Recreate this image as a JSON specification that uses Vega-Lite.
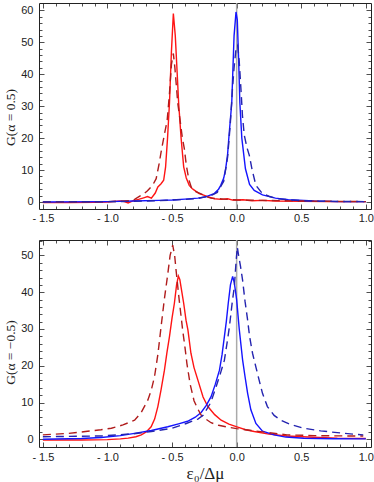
{
  "$schema": "https://vega.github.io/schema/vega-lite/v6.json",
  "background": "white",
  "padding": {"left": 3, "top": 1, "right": 0, "bottom": 0},
  "spacing": 14,
  "config": {
    "view": {"stroke": "#222", "strokeWidth": 1},
    "axis": {"domain": false, "grid": false, "labelFont": "Liberation Sans", "labelFontSize": 11, "labelColor": "#222", "tickColor": "#222", "tickWidth": 0.8, "titleFont": "Liberation Serif", "titleFontSize": 13.5, "titleFontWeight": "normal", "titleColor": "#222"},
    "line": {"strokeWidth": 1.4}
  },
  "datasets": {
    "top": [
      {"s":"rs","x":-1.5,"g":-0.2},{"s":"rs","x":-1.3,"g":-0.2},{"s":"rs","x":-1.1,"g":-0.1},{"s":"rs","x":-1.0,"g":0},{"s":"rs","x":-0.95,"g":0.2},{"s":"rs","x":-0.9,"g":0.3},{"s":"rs","x":-0.87,"g":0.1},{"s":"rs","x":-0.84,"g":-0.3},{"s":"rs","x":-0.8,"g":0.4},{"s":"rs","x":-0.76,"g":0.8},{"s":"rs","x":-0.72,"g":1.3},{"s":"rs","x":-0.69,"g":1.7},{"s":"rs","x":-0.66,"g":1.2},{"s":"rs","x":-0.63,"g":2.8},{"s":"rs","x":-0.61,"g":4.7},{"s":"rs","x":-0.585,"g":5.7},{"s":"rs","x":-0.565,"g":6.8},{"s":"rs","x":-0.55,"g":11},{"s":"rs","x":-0.535,"g":20},{"s":"rs","x":-0.52,"g":31},{"s":"rs","x":-0.505,"g":47},{"s":"rs","x":-0.49,"g":59},{"s":"rs","x":-0.475,"g":52},{"s":"rs","x":-0.46,"g":40},{"s":"rs","x":-0.449,"g":31},{"s":"rs","x":-0.43,"g":20},{"s":"rs","x":-0.41,"g":11},{"s":"rs","x":-0.39,"g":7.5},{"s":"rs","x":-0.367,"g":5.2},{"s":"rs","x":-0.345,"g":4.2},{"s":"rs","x":-0.328,"g":3.7},{"s":"rs","x":-0.29,"g":2.6},{"s":"rs","x":-0.26,"g":2.2},{"s":"rs","x":-0.22,"g":1.6},{"s":"rs","x":-0.17,"g":1.0},{"s":"rs","x":-0.12,"g":0.8},{"s":"rs","x":-0.07,"g":1.0},{"s":"rs","x":-0.03,"g":0.6},{"s":"rs","x":0.05,"g":0.7},{"s":"rs","x":0.12,"g":0.4},{"s":"rs","x":0.2,"g":0.5},{"s":"rs","x":0.3,"g":0.3},{"s":"rs","x":0.5,"g":0.2},{"s":"rs","x":0.7,"g":0.1},{"s":"rs","x":1.0,"g":0.1},
      {"s":"rd","x":-1.5,"g":0},{"s":"rd","x":-1.2,"g":0},{"s":"rd","x":-1.0,"g":0.1},{"s":"rd","x":-0.9,"g":0.2},{"s":"rd","x":-0.83,"g":0.4},{"s":"rd","x":-0.79,"g":0.8},{"s":"rd","x":-0.75,"g":1.8},{"s":"rd","x":-0.72,"g":2.5},{"s":"rd","x":-0.69,"g":3.5},{"s":"rd","x":-0.65,"g":5.3},{"s":"rd","x":-0.623,"g":7.3},{"s":"rd","x":-0.6,"g":12},{"s":"rd","x":-0.585,"g":15.6},{"s":"rd","x":-0.56,"g":21},{"s":"rd","x":-0.538,"g":25.5},{"s":"rd","x":-0.52,"g":34},{"s":"rd","x":-0.505,"g":43},{"s":"rd","x":-0.49,"g":46.5},{"s":"rd","x":-0.478,"g":42},{"s":"rd","x":-0.469,"g":37.5},{"s":"rd","x":-0.456,"g":31},{"s":"rd","x":-0.436,"g":25},{"s":"rd","x":-0.42,"g":20},{"s":"rd","x":-0.405,"g":16.7},{"s":"rd","x":-0.39,"g":11.6},{"s":"rd","x":-0.37,"g":7},{"s":"rd","x":-0.35,"g":4.5},{"s":"rd","x":-0.32,"g":3.3},{"s":"rd","x":-0.28,"g":2.6},{"s":"rd","x":-0.24,"g":1.8},{"s":"rd","x":-0.2,"g":1.2},{"s":"rd","x":-0.1,"g":0.9},{"s":"rd","x":0,"g":0.6},{"s":"rd","x":0.2,"g":0.5},{"s":"rd","x":0.5,"g":0.3},{"s":"rd","x":0.75,"g":0.2},{"s":"rd","x":1.0,"g":0.1},
      {"s":"bs","x":-1.5,"g":0},{"s":"bs","x":-1.0,"g":0.1},{"s":"bs","x":-0.8,"g":0.3},{"s":"bs","x":-0.6,"g":0.5},{"s":"bs","x":-0.5,"g":0.6},{"s":"bs","x":-0.4,"g":0.9},{"s":"bs","x":-0.3,"g":1.2},{"s":"bs","x":-0.24,"g":1.6},{"s":"bs","x":-0.175,"g":2.6},{"s":"bs","x":-0.14,"g":4},{"s":"bs","x":-0.123,"g":5.2},{"s":"bs","x":-0.1,"g":7.5},{"s":"bs","x":-0.085,"g":10.4},{"s":"bs","x":-0.07,"g":15},{"s":"bs","x":-0.059,"g":20.8},{"s":"bs","x":-0.038,"g":31},{"s":"bs","x":-0.02,"g":52},{"s":"bs","x":-0.005,"g":59.5},{"s":"bs","x":0.005,"g":57},{"s":"bs","x":0.015,"g":45},{"s":"bs","x":0.025,"g":31},{"s":"bs","x":0.04,"g":20},{"s":"bs","x":0.068,"g":10.4},{"s":"bs","x":0.1,"g":5.5},{"s":"bs","x":0.136,"g":3.6},{"s":"bs","x":0.2,"g":2.2},{"s":"bs","x":0.3,"g":1.2},{"s":"bs","x":0.4,"g":0.7},{"s":"bs","x":0.6,"g":0.3},{"s":"bs","x":0.8,"g":0.1},{"s":"bs","x":1.0,"g":0.1},
      {"s":"bd","x":-1.5,"g":0},{"s":"bd","x":-1.0,"g":0.1},{"s":"bd","x":-0.8,"g":0.2},{"s":"bd","x":-0.6,"g":0.4},{"s":"bd","x":-0.4,"g":0.8},{"s":"bd","x":-0.3,"g":1.1},{"s":"bd","x":-0.2,"g":2.0},{"s":"bd","x":-0.15,"g":3.0},{"s":"bd","x":-0.1,"g":6.5},{"s":"bd","x":-0.07,"g":14},{"s":"bd","x":-0.05,"g":24},{"s":"bd","x":-0.033,"g":35},{"s":"bd","x":-0.02,"g":42},{"s":"bd","x":-0.005,"g":48},{"s":"bd","x":0.008,"g":49},{"s":"bd","x":0.02,"g":44},{"s":"bd","x":0.033,"g":35.5},{"s":"bd","x":0.045,"g":27},{"s":"bd","x":0.059,"g":20.9},{"s":"bd","x":0.08,"g":17},{"s":"bd","x":0.098,"g":14.6},{"s":"bd","x":0.12,"g":10},{"s":"bd","x":0.149,"g":5.2},{"s":"bd","x":0.2,"g":2.6},{"s":"bd","x":0.25,"g":1.8},{"s":"bd","x":0.315,"g":1.0},{"s":"bd","x":0.4,"g":0.7},{"s":"bd","x":0.5,"g":0.4},{"s":"bd","x":0.7,"g":0.2},{"s":"bd","x":1.0,"g":0.1}
    ],
    "bottom": [
      {"s":"rs","x":-1.5,"g":-0.2},{"s":"rs","x":-1.2,"g":-0.2},{"s":"rs","x":-1.0,"g":-0.1},{"s":"rs","x":-0.9,"g":0.1},{"s":"rs","x":-0.84,"g":0.3},{"s":"rs","x":-0.78,"g":0.7},{"s":"rs","x":-0.738,"g":1.2},{"s":"rs","x":-0.7,"g":2.0},{"s":"rs","x":-0.662,"g":3.4},{"s":"rs","x":-0.635,"g":5.5},{"s":"rs","x":-0.61,"g":8.9},{"s":"rs","x":-0.585,"g":13.5},{"s":"rs","x":-0.559,"g":18.8},{"s":"rs","x":-0.54,"g":23.5},{"s":"rs","x":-0.52,"g":27.9},{"s":"rs","x":-0.5,"g":33},{"s":"rs","x":-0.482,"g":37},{"s":"rs","x":-0.465,"g":42},{"s":"rs","x":-0.451,"g":44.4},{"s":"rs","x":-0.44,"g":43.5},{"s":"rs","x":-0.431,"g":41.5},{"s":"rs","x":-0.41,"g":37},{"s":"rs","x":-0.392,"g":32.4},{"s":"rs","x":-0.377,"g":29.7},{"s":"rs","x":-0.354,"g":23.4},{"s":"rs","x":-0.33,"g":19.5},{"s":"rs","x":-0.3,"g":16.1},{"s":"rs","x":-0.26,"g":11.5},{"s":"rs","x":-0.223,"g":8.9},{"s":"rs","x":-0.17,"g":6.7},{"s":"rs","x":-0.12,"g":5.2},{"s":"rs","x":-0.06,"g":4.1},{"s":"rs","x":0.008,"g":3.3},{"s":"rs","x":0.07,"g":2.6},{"s":"rs","x":0.136,"g":2.1},{"s":"rs","x":0.25,"g":1.4},{"s":"rs","x":0.39,"g":0.9},{"s":"rs","x":0.55,"g":0.6},{"s":"rs","x":0.78,"g":0.3},{"s":"rs","x":1.0,"g":0.2},
      {"s":"rd","x":-1.5,"g":1.2},{"s":"rd","x":-1.3,"g":1.6},{"s":"rd","x":-1.17,"g":2.1},{"s":"rd","x":-1.05,"g":2.6},{"s":"rd","x":-0.97,"g":3.0},{"s":"rd","x":-0.88,"g":3.9},{"s":"rd","x":-0.79,"g":5.2},{"s":"rd","x":-0.74,"g":7.2},{"s":"rd","x":-0.687,"g":10.7},{"s":"rd","x":-0.66,"g":13.5},{"s":"rd","x":-0.636,"g":17},{"s":"rd","x":-0.61,"g":23},{"s":"rd","x":-0.585,"g":30.6},{"s":"rd","x":-0.56,"g":38},{"s":"rd","x":-0.533,"g":45},{"s":"rd","x":-0.515,"g":50},{"s":"rd","x":-0.495,"g":52.8},{"s":"rd","x":-0.48,"g":50},{"s":"rd","x":-0.469,"g":46},{"s":"rd","x":-0.445,"g":38},{"s":"rd","x":-0.418,"g":29.7},{"s":"rd","x":-0.4,"g":25},{"s":"rd","x":-0.385,"g":20.6},{"s":"rd","x":-0.36,"g":15},{"s":"rd","x":-0.33,"g":10.5},{"s":"rd","x":-0.3,"g":8.2},{"s":"rd","x":-0.275,"g":6.6},{"s":"rd","x":-0.235,"g":5.4},{"s":"rd","x":-0.198,"g":4.5},{"s":"rd","x":-0.14,"g":3.8},{"s":"rd","x":-0.07,"g":3.3},{"s":"rd","x":0,"g":2.9},{"s":"rd","x":0.136,"g":2.3},{"s":"rd","x":0.25,"g":1.8},{"s":"rd","x":0.39,"g":1.2},{"s":"rd","x":0.6,"g":1.0},{"s":"rd","x":0.85,"g":0.9},{"s":"rd","x":0.98,"g":0.9},
      {"s":"bs","x":-1.5,"g":0},{"s":"bs","x":-1.2,"g":0.2},{"s":"bs","x":-1.05,"g":0.5},{"s":"bs","x":-0.9,"g":1.0},{"s":"bs","x":-0.79,"g":1.6},{"s":"bs","x":-0.66,"g":2.4},{"s":"bs","x":-0.533,"g":3.4},{"s":"bs","x":-0.45,"g":4.2},{"s":"bs","x":-0.38,"g":4.9},{"s":"bs","x":-0.32,"g":6.0},{"s":"bs","x":-0.275,"g":7.3},{"s":"bs","x":-0.235,"g":9.2},{"s":"bs","x":-0.198,"g":11.6},{"s":"bs","x":-0.165,"g":15},{"s":"bs","x":-0.133,"g":18.8},{"s":"bs","x":-0.113,"g":23},{"s":"bs","x":-0.095,"g":27.9},{"s":"bs","x":-0.08,"g":32},{"s":"bs","x":-0.065,"g":37},{"s":"bs","x":-0.048,"g":42},{"s":"bs","x":-0.031,"g":44.3},{"s":"bs","x":-0.018,"g":42.5},{"s":"bs","x":-0.008,"g":40},{"s":"bs","x":0.0,"g":38},{"s":"bs","x":0.02,"g":30},{"s":"bs","x":0.046,"g":21.6},{"s":"bs","x":0.065,"g":17},{"s":"bs","x":0.085,"g":12.5},{"s":"bs","x":0.11,"g":8},{"s":"bs","x":0.149,"g":4.3},{"s":"bs","x":0.2,"g":2.2},{"s":"bs","x":0.29,"g":1.2},{"s":"bs","x":0.38,"g":0.6},{"s":"bs","x":0.52,"g":0.3},{"s":"bs","x":0.75,"g":0.15},{"s":"bs","x":1.0,"g":0.1},
      {"s":"bd","x":-1.5,"g":0.7},{"s":"bd","x":-1.05,"g":0.9},{"s":"bd","x":-0.8,"g":1.5},{"s":"bd","x":-0.66,"g":2.1},{"s":"bd","x":-0.5,"g":3.0},{"s":"bd","x":-0.39,"g":4.3},{"s":"bd","x":-0.3,"g":5.5},{"s":"bd","x":-0.26,"g":6.5},{"s":"bd","x":-0.2,"g":10},{"s":"bd","x":-0.159,"g":14.3},{"s":"bd","x":-0.125,"g":18},{"s":"bd","x":-0.095,"g":21.5},{"s":"bd","x":-0.075,"g":26},{"s":"bd","x":-0.056,"g":30.6},{"s":"bd","x":-0.035,"g":37},{"s":"bd","x":-0.018,"g":41.5},{"s":"bd","x":-0.005,"g":48},{"s":"bd","x":0.005,"g":52.3},{"s":"bd","x":0.015,"g":50},{"s":"bd","x":0.03,"g":47},{"s":"bd","x":0.046,"g":43.3},{"s":"bd","x":0.065,"g":37.5},{"s":"bd","x":0.085,"g":32.4},{"s":"bd","x":0.1,"g":28},{"s":"bd","x":0.123,"g":23.4},{"s":"bd","x":0.15,"g":19.5},{"s":"bd","x":0.174,"g":16.1},{"s":"bd","x":0.2,"g":12.5},{"s":"bd","x":0.238,"g":8.9},{"s":"bd","x":0.29,"g":6.5},{"s":"bd","x":0.341,"g":5.2},{"s":"bd","x":0.42,"g":4.0},{"s":"bd","x":0.52,"g":3.0},{"s":"bd","x":0.65,"g":2.3},{"s":"bd","x":0.78,"g":1.8},{"s":"bd","x":0.9,"g":1.4},{"s":"bd","x":0.98,"g":1.2}
    ]
  },
  "vconcat": [
    {
      "width": 332, "height": 206,
      "resolve": {"axis": {"x": "independent", "y": "independent"}},
      "layer": [
        {"data": {"values": [{"z": 0}]}, "mark": {"type": "rule", "color": "#aaaaaa", "strokeWidth": 1.5},
         "encoding": {"x": {"field": "z", "type": "quantitative", "scale": {"domain": [-1.53, 1.04], "nice": false, "zero": false}, "axis": null}}},
        {"data": {"name": "top"}, "transform": [{"filter": "datum.s == 'rs'"}], "mark": {"type": "line", "color": "#ff1414"},
         "encoding": {
           "x": {"field": "x", "type": "quantitative", "scale": {"domain": [-1.53, 1.04], "nice": false, "zero": false},
                 "axis": {"orient": "bottom", "values": [-1.5, -1, -0.5, 0, 0.5, 1], "tickSize": -5, "labelPadding": 8, "title": null, "labelExpr": "datum.value < 0 ? '- ' + format(-datum.value, '.1f') : format(datum.value, '.1f')"}},
           "y": {"field": "g", "type": "quantitative", "scale": {"domain": [-2.2, 62.3], "nice": false, "zero": false},
                 "axis": {"orient": "left", "values": [0, 10, 20, 30, 40, 50, 60], "tickSize": -5, "labelPadding": 11, "title": "G(α = 0.5)", "titlePadding": 3, "titleY": 114}}}},
        {"data": {"name": "top"}, "transform": [{"filter": "datum.s == 'bs'"}], "mark": {"type": "line", "color": "#1414ff"},
         "encoding": {
           "x": {"field": "x", "type": "quantitative", "scale": {"domain": [-1.53, 1.04], "nice": false, "zero": false},
                 "axis": {"orient": "bottom", "values": [-1.4, -1.3, -1.2, -1.1, -0.9, -0.8, -0.7, -0.6, -0.4, -0.3, -0.2, -0.1, 0.1, 0.2, 0.3, 0.4, 0.6, 0.7, 0.8, 0.9], "tickSize": -3, "labels": false, "title": null}},
           "y": {"field": "g", "type": "quantitative", "scale": {"domain": [-2.2, 62.3], "nice": false, "zero": false},
                 "axis": {"orient": "left", "values": [2, 4, 6, 8, 12, 14, 16, 18, 22, 24, 26, 28, 32, 34, 36, 38, 42, 44, 46, 48, 52, 54, 56, 58], "tickSize": -3, "labels": false, "title": null}}}},
        {"data": {"name": "top"}, "transform": [{"filter": "datum.s == 'rd'"}], "mark": {"type": "line", "color": "#b01c1c", "strokeDash": [8, 5]},
         "encoding": {
           "x": {"field": "x", "type": "quantitative", "scale": {"domain": [-1.53, 1.04], "nice": false, "zero": false},
                 "axis": {"orient": "top", "values": [-1.5, -1, -0.5, 0, 0.5, 1], "tickSize": -5, "labels": false, "title": null}},
           "y": {"field": "g", "type": "quantitative", "scale": {"domain": [-2.2, 62.3], "nice": false, "zero": false},
                 "axis": {"orient": "right", "values": [0, 10, 20, 30, 40, 50, 60], "tickSize": -5, "labels": false, "title": null}}}},
        {"data": {"name": "top"}, "transform": [{"filter": "datum.s == 'bd'"}], "mark": {"type": "line", "color": "#2424b0", "strokeDash": [8, 5]},
         "encoding": {
           "x": {"field": "x", "type": "quantitative", "scale": {"domain": [-1.53, 1.04], "nice": false, "zero": false},
                 "axis": {"orient": "top", "values": [-1.4, -1.3, -1.2, -1.1, -0.9, -0.8, -0.7, -0.6, -0.4, -0.3, -0.2, -0.1, 0.1, 0.2, 0.3, 0.4, 0.6, 0.7, 0.8, 0.9], "tickSize": -3, "labels": false, "title": null}},
           "y": {"field": "g", "type": "quantitative", "scale": {"domain": [-2.2, 62.3], "nice": false, "zero": false},
                 "axis": {"orient": "right", "values": [2, 4, 6, 8, 12, 14, 16, 18, 22, 24, 26, 28, 32, 34, 36, 38, 42, 44, 46, 48, 52, 54, 56, 58], "tickSize": -3, "labels": false, "title": null}}}}
      ]
    },
    {
      "width": 332, "height": 207,
      "resolve": {"axis": {"x": "independent", "y": "independent"}},
      "layer": [
        {"data": {"values": [{"z": 0}]}, "mark": {"type": "rule", "color": "#aaaaaa", "strokeWidth": 1.5},
         "encoding": {"x": {"field": "z", "type": "quantitative", "scale": {"domain": [-1.53, 1.04], "nice": false, "zero": false}, "axis": null}}},
        {"data": {"name": "bottom"}, "transform": [{"filter": "datum.s == 'rs'"}], "mark": {"type": "line", "color": "#ff1414"},
         "encoding": {
           "x": {"field": "x", "type": "quantitative", "scale": {"domain": [-1.53, 1.04], "nice": false, "zero": false},
                 "axis": {"orient": "bottom", "values": [-1.5, -1, -0.5, 0, 0.5, 1], "tickSize": -5, "labelPadding": 9, "title": "ε₀/Δμ", "titlePadding": 3, "titleFontSize": 17, "labelExpr": "datum.value < 0 ? '- ' + format(-datum.value, '.1f') : format(datum.value, '.1f')"}},
           "y": {"field": "g", "type": "quantitative", "scale": {"domain": [-2.1, 54.2], "nice": false, "zero": false},
                 "axis": {"orient": "left", "values": [0, 10, 20, 30, 40, 50], "tickSize": -5, "labelPadding": 11, "title": "G(α = −0.5)", "titlePadding": 3, "titleY": 112}}}},
        {"data": {"name": "bottom"}, "transform": [{"filter": "datum.s == 'bs'"}], "mark": {"type": "line", "color": "#1414ff"},
         "encoding": {
           "x": {"field": "x", "type": "quantitative", "scale": {"domain": [-1.53, 1.04], "nice": false, "zero": false},
                 "axis": {"orient": "bottom", "values": [-1.4, -1.3, -1.2, -1.1, -0.9, -0.8, -0.7, -0.6, -0.4, -0.3, -0.2, -0.1, 0.1, 0.2, 0.3, 0.4, 0.6, 0.7, 0.8, 0.9], "tickSize": -3, "labels": false, "title": null}},
           "y": {"field": "g", "type": "quantitative", "scale": {"domain": [-2.1, 54.2], "nice": false, "zero": false},
                 "axis": {"orient": "left", "values": [2, 4, 6, 8, 12, 14, 16, 18, 22, 24, 26, 28, 32, 34, 36, 38, 42, 44, 46, 48, 52, 54], "tickSize": -3, "labels": false, "title": null}}}},
        {"data": {"name": "bottom"}, "transform": [{"filter": "datum.s == 'rd'"}], "mark": {"type": "line", "color": "#b01c1c", "strokeDash": [8, 5]},
         "encoding": {
           "x": {"field": "x", "type": "quantitative", "scale": {"domain": [-1.53, 1.04], "nice": false, "zero": false},
                 "axis": {"orient": "top", "values": [-1.5, -1, -0.5, 0, 0.5, 1], "tickSize": -5, "labels": false, "title": null}},
           "y": {"field": "g", "type": "quantitative", "scale": {"domain": [-2.1, 54.2], "nice": false, "zero": false},
                 "axis": {"orient": "right", "values": [0, 10, 20, 30, 40, 50], "tickSize": -5, "labels": false, "title": null}}}},
        {"data": {"name": "bottom"}, "transform": [{"filter": "datum.s == 'bd'"}], "mark": {"type": "line", "color": "#2424b0", "strokeDash": [8, 5]},
         "encoding": {
           "x": {"field": "x", "type": "quantitative", "scale": {"domain": [-1.53, 1.04], "nice": false, "zero": false},
                 "axis": {"orient": "top", "values": [-1.4, -1.3, -1.2, -1.1, -0.9, -0.8, -0.7, -0.6, -0.4, -0.3, -0.2, -0.1, 0.1, 0.2, 0.3, 0.4, 0.6, 0.7, 0.8, 0.9], "tickSize": -3, "labels": false, "title": null}},
           "y": {"field": "g", "type": "quantitative", "scale": {"domain": [-2.1, 54.2], "nice": false, "zero": false},
                 "axis": {"orient": "right", "values": [2, 4, 6, 8, 12, 14, 16, 18, 22, 24, 26, 28, 32, 34, 36, 38, 42, 44, 46, 48, 52, 54], "tickSize": -3, "labels": false, "title": null}}}}
      ]
    }
  ]
}
